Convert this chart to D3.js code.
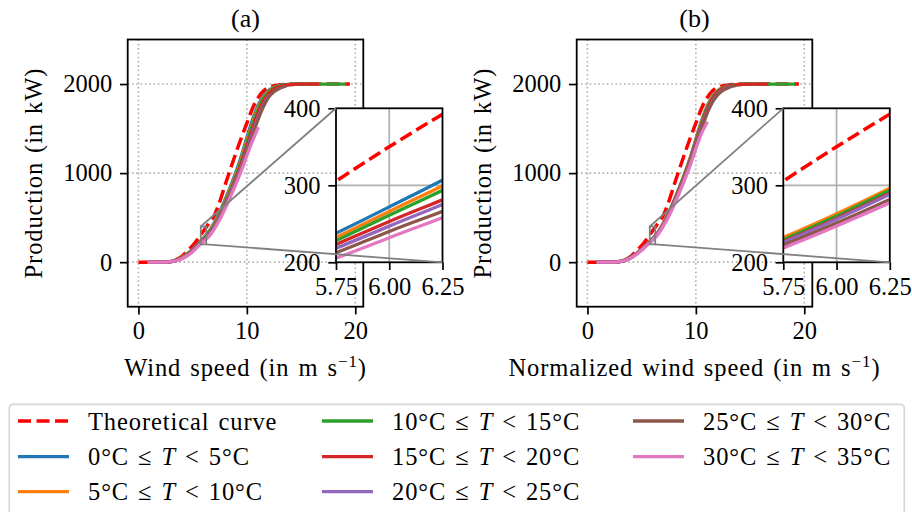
<!DOCTYPE html>
<html>
<head>
<meta charset="utf-8">
<script src="https://cdn.jsdelivr.net/npm/d3@7"></script>
<style>
  body { margin: 0; background: #fff; }
  svg { display: block; }
  text { font-family: "Liberation Serif", "DejaVu Serif", serif; fill: #000; }
  .label { letter-spacing: 0.9px; word-spacing: 2px; }
</style>
</head>
<body>
<div id="chart"></div>
<script>
// Wind speed bins (m/s) for the theoretical curve and for the measured curves
const windSpeed = [0, 0.5, 1, 1.5, 2, 2.5, 3, 3.5, 4, 4.5, 5, 5.5, 6, 6.5, 7, 7.5, 8, 8.5, 9, 9.5,
    10, 10.5, 11, 11.5, 12, 12.5, 13, 13.5, 14, 14.5, 15, 15.5, 16, 16.5, 17, 17.5, 18, 18.5, 19, 19.5];
const measuredSpeed = [1, 1.5, 2, 2.5, 3, 3.5, 4, 4.5, 5, 5.5, 6, 6.5, 7, 7.5, 8, 8.5, 9, 9.5,
    10, 10.5, 11, 11.5, 12, 12.5, 13, 13.5, 14, 14.5, 15, 15.5, 16, 16.5, 17, 17.5, 18, 18.5, 19];

// Theoretical power curve (kW)
const theoretical = [0, 0, 0, 0, 0, 0, 10, 30, 65, 125, 185, 262, 350, 435, 525, 680, 870, 1050, 1230, 1400,
    1560, 1720, 1840, 1920, 1960, 1980, 1990, 1995, 2000, 2000, 2000, 2000, 2000, 2000, 2000, 2000, 2000, 2000, 2000, 2000];

// Temperature bins
const tempLow = [0, 5, 10, 15, 20, 25, 30];
const tempHigh = [5, 10, 15, 20, 25, 30, 35];

// (a) measured curves by temperature bin, starting at 1 m/s
const a0_5 = [0, 0, 0, 2, 8, 25, 55, 95, 145, 205, 272, 345, 445, 565, 705, 855, 1015, 1195, 1400, 1590,
    1750, 1860, 1930, 1965, 1983, 1992, 1996, 1998, 1999, 2000];
const a5_10 = [0, 0, 0, 2, 7, 23, 52, 91, 140, 200, 266, 336, 432, 548, 686, 833, 990, 1165, 1365, 1555,
    1725, 1845, 1920, 1960, 1980, 1990, 1995, 1998, 2000];
const a10_15 = [0, 0, 0, 2, 7, 22, 50, 88, 136, 196, 261, 329, 422, 535, 670, 815, 970, 1140, 1335, 1530,
    1700, 1830, 1910, 1955, 1978, 1990, 1995, 1998, 1999, 2000, 2000, 2000, 2000, 2000, 2000, 2000, 2000];
const a15_20 = [0, 0, 0, 1, 6, 20, 46, 83, 130, 193, 253, 313, 405, 515, 648, 790, 945, 1110, 1300, 1490,
    1665, 1800, 1890, 1945, 1972, 1986, 1993, 1997, 1999, 2000, 2000, 2000];
const a20_25 = [0, 0, 0, 1, 6, 19, 44, 80, 127, 189, 247, 307, 397, 505, 636, 776, 920, 1075, 1255, 1440,
    1615, 1760, 1860];
const a25_30 = [0, 0, 0, 1, 5, 17, 41, 76, 122, 184, 240, 296, 385, 490, 618, 756, 900, 1055, 1230, 1410,
    1590, 1740, 1850, 1915, 1950, 1972];
const a30_35 = [0, 0, 0, 1, 5, 16, 38, 72, 117, 178, 232, 288, 375, 478, 603, 738, 880, 1030, 1195, 1355,
    1500];

// (b) measured curves against normalized wind speed
const b0_5 = [0, 0, 0, 2, 8, 24, 54, 94, 144, 201, 261, 333, 435, 555, 695, 845, 1005, 1180, 1380, 1575,
    1740, 1855, 1925, 1962, 1982, 1991, 1996, 1998, 1999, 2000];
const b5_10 = [0, 0, 0, 2, 8, 24, 54, 95, 145, 203, 263, 335, 437, 556, 694, 842, 1000, 1172, 1370, 1562,
    1730, 1848, 1920, 1960, 1980, 1990, 1995, 1998, 2000];
const b10_15 = [0, 0, 0, 2, 8, 23, 53, 93, 143, 200, 260, 332, 432, 550, 688, 835, 992, 1162, 1358, 1550,
    1720, 1840, 1915, 1958, 1979, 1990, 1995, 1998, 1999, 2000, 2000, 2000, 2000, 2000, 2000, 2000, 2000];
const b15_20 = [0, 0, 0, 2, 7, 23, 52, 92, 141, 198, 257, 327, 425, 542, 678, 824, 980, 1148, 1340, 1532,
    1702, 1825, 1905, 1952, 1975, 1988, 1994, 1997, 1999, 2000, 2000, 2000];
const b20_25 = [0, 0, 0, 2, 7, 22, 51, 91, 140, 197, 256, 325, 421, 536, 670, 814, 968, 1133, 1320, 1508,
    1675, 1800, 1885, 1935, 1965];
const b25_30 = [0, 0, 0, 1, 7, 22, 50, 89, 138, 195, 251, 317, 412, 525, 657, 800, 952, 1115, 1300, 1488,
    1660, 1790, 1878, 1930, 1960, 1978];
const b30_35 = [0, 0, 0, 1, 6, 21, 48, 86, 134, 191, 247, 312, 405, 515, 645, 785, 935, 1095, 1275, 1440,
    1560];

const xTicks = [0, 10, 20];
const yTicks = [0, 1000, 2000];
const insetXTicks = [5.75, 6.00, 6.25];
const insetYTicks = [200, 300, 400];

const colors = ['#1f77b4', '#ff7f0e', '#2ca02c', '#d62728', '#9467bd', '#8c564b', '#e377c2'];

// Layout
const FONT = 24.5;
const TICK = 7.7;
const axTop = 39.5, axBottom = 306.7, axW = 235.6;
const inTop = 108.3, inBottom = 262.3, inW = 106.5;

const svg = d3.select('#chart').append('svg')
    .attr('width', 912)
    .attr('height', 512);
const defs = svg.append('defs');

const panels = [
    { id: 'a', left: 127.7, insetLeft: 336, title: '(a)', xlabel: 'Wind speed', ylabelX: 42,
      series: [a0_5, a5_10, a10_15, a15_20, a20_25, a25_30, a30_35] },
    { id: 'b', left: 576.7, insetLeft: 783.3, title: '(b)', xlabel: 'Normalized wind speed', ylabelX: 491,
      series: [b0_5, b5_10, b10_15, b15_20, b20_25, b25_30, b30_35] }
];

function styleAxis(a) {
    a.attr('font-size', FONT).attr('font-family', null);
    a.select('.domain').remove();
    a.selectAll('line').attr('stroke', '#000').attr('stroke-width', 1.7);
}

function drawCurves(g, x, y, series, clipId) {
    const line = d3.line()
        .x(d => x(d[0]))
        .y(d => y(d[1]))
        .curve(d3.curveMonotoneX);

    const cg = g.append('g').attr('clip-path', `url(#${clipId})`);

    cg.append('path')
        .datum(windSpeed.map((v, i) => [v, theoretical[i]]))
        .attr('fill', 'none')
        .attr('stroke', '#ff0000')
        .attr('stroke-width', 3.5)
        .attr('stroke-dasharray', '13,5.5')
        .attr('d', line);

    series.forEach((s, k) => {
        cg.append('path')
            .datum(s.map((p, i) => [measuredSpeed[i], p]))
            .attr('fill', 'none')
            .attr('stroke', colors[k])
            .attr('stroke-width', 3.3)
            .attr('stroke-linecap', 'square')
            .attr('d', line);
    });
}

function drawPanel(p) {
    const x = d3.scaleLinear().domain([-0.99, 20.74]).range([p.left, p.left + axW]);
    const y = d3.scaleLinear().domain([-500, 2500]).range([axBottom, axTop]);
    const g = svg.append('g');

    defs.append('clipPath').attr('id', `clip-${p.id}`)
        .append('rect')
        .attr('x', p.left).attr('y', axTop)
        .attr('width', axW).attr('height', axBottom - axTop);

    // Dotted grid
    g.append('g').selectAll('line').data(xTicks).join('line')
        .attr('x1', d => x(d)).attr('x2', d => x(d))
        .attr('y1', axTop).attr('y2', axBottom)
        .attr('stroke', '#b0b0b0').attr('stroke-width', 1.6).attr('stroke-dasharray', '1.6,2.7');
    g.append('g').selectAll('line').data(yTicks).join('line')
        .attr('x1', p.left).attr('x2', p.left + axW)
        .attr('y1', d => y(d)).attr('y2', d => y(d))
        .attr('stroke', '#b0b0b0').attr('stroke-width', 1.6).attr('stroke-dasharray', '1.6,2.7');

    drawCurves(g, x, y, p.series, `clip-${p.id}`);

    // Spines
    g.append('rect')
        .attr('x', p.left).attr('y', axTop)
        .attr('width', axW).attr('height', axBottom - axTop)
        .attr('fill', 'none').attr('stroke', '#000').attr('stroke-width', 1.8);

    // Axes
    g.append('g')
        .attr('transform', `translate(0,${axBottom})`)
        .call(d3.axisBottom(x).tickValues(xTicks).tickSize(TICK).tickPadding(TICK).tickSizeOuter(0))
        .call(styleAxis);
    g.append('g')
        .attr('transform', `translate(${p.left},0)`)
        .call(d3.axisLeft(y).tickValues(yTicks).tickFormat(d3.format('d'))
            .tickSize(TICK).tickPadding(TICK).tickSizeOuter(0))
        .call(styleAxis);

    // Titles and labels
    const cx = p.left + axW / 2;
    g.append('text')
        .attr('x', cx).attr('y', 26.5)
        .attr('text-anchor', 'middle')
        .attr('font-size', 26)
        .text(p.title);

    const xl = g.append('text')
        .attr('class', 'label')
        .attr('x', cx).attr('y', 376)
        .attr('text-anchor', 'middle')
        .attr('font-size', FONT);
    xl.append('tspan').text(`${p.xlabel} (in m s`);
    xl.append('tspan').attr('font-size', 17).attr('dy', -9).text('\u22121');
    xl.append('tspan').attr('dy', 9).text(')');

    g.append('text')
        .attr('class', 'label')
        .attr('transform', `translate(${p.ylabelX},${(axTop + axBottom) / 2}) rotate(-90)`)
        .attr('text-anchor', 'middle')
        .attr('font-size', FONT)
        .text('Production (in kW)');

    // Zoom indicator rectangle in the main axes
    g.append('rect')
        .attr('x', x(insetXTicks[0])).attr('y', y(insetYTicks[2]))
        .attr('width', x(insetXTicks[2]) - x(insetXTicks[0]))
        .attr('height', y(insetYTicks[0]) - y(insetYTicks[2]))
        .attr('fill', 'none').attr('stroke', '#808080').attr('stroke-width', 1.8);

    // Inset
    const ix = d3.scaleLinear().domain([5.75, 6.25]).range([p.insetLeft, p.insetLeft + inW]);
    const iy = d3.scaleLinear().domain([200, 400]).range([inBottom, inTop]);
    const ig = svg.append('g');

    defs.append('clipPath').attr('id', `clip-in-${p.id}`)
        .append('rect')
        .attr('x', p.insetLeft).attr('y', inTop)
        .attr('width', inW).attr('height', inBottom - inTop);

    ig.append('rect')
        .attr('x', p.insetLeft).attr('y', inTop)
        .attr('width', inW).attr('height', inBottom - inTop)
        .attr('fill', '#fff');

    ig.append('line')
        .attr('x1', ix(6)).attr('x2', ix(6)).attr('y1', inTop).attr('y2', inBottom)
        .attr('stroke', '#b0b0b0').attr('stroke-width', 1.7);
    ig.append('line')
        .attr('x1', p.insetLeft).attr('x2', p.insetLeft + inW).attr('y1', iy(300)).attr('y2', iy(300))
        .attr('stroke', '#b0b0b0').attr('stroke-width', 1.7);

    drawCurves(ig, ix, iy, p.series, `clip-in-${p.id}`);

    ig.append('rect')
        .attr('x', p.insetLeft).attr('y', inTop)
        .attr('width', inW).attr('height', inBottom - inTop)
        .attr('fill', 'none').attr('stroke', '#000').attr('stroke-width', 1.8);

    ig.append('g')
        .attr('transform', `translate(0,${inBottom})`)
        .call(d3.axisBottom(ix).tickValues(insetXTicks).tickFormat(d3.format('.2f'))
            .tickSize(TICK).tickPadding(TICK).tickSizeOuter(0))
        .call(styleAxis);
    ig.append('g')
        .attr('transform', `translate(${p.insetLeft},0)`)
        .call(d3.axisLeft(iy).tickValues(insetYTicks).tickSize(TICK).tickPadding(TICK).tickSizeOuter(0))
        .call(styleAxis);

    // Connector lines from the indicator to the inset corners
    ig.append('line')
        .attr('x1', x(5.75)).attr('y1', y(400))
        .attr('x2', p.insetLeft).attr('y2', inTop)
        .attr('stroke', '#808080').attr('stroke-width', 1.8);
    ig.append('line')
        .attr('x1', x(6.25)).attr('y1', y(200))
        .attr('x2', p.insetLeft + inW).attr('y2', inBottom)
        .attr('stroke', '#808080').attr('stroke-width', 1.8);
}

panels.forEach(drawPanel);

// Legend
const legend = svg.append('g');
legend.append('rect')
    .attr('x', 9.3).attr('y', 404.3)
    .attr('width', 895).attr('height', 130)
    .attr('rx', 4)
    .attr('fill', '#fff').attr('stroke', '#d6d6d6').attr('stroke-width', 1.7);

const legendCols = [18, 322, 633];
const legendRows = [421, 456.7, 491.7];
const entries = [{ label: 'Theoretical curve', color: '#ff0000', dashed: true }]
    .concat(tempLow.map((lo, k) => ({ lo, hi: tempHigh[k], color: colors[k] })));

entries.forEach((e, i) => {
    const col = Math.floor(i / 3), row = i % 3;
    const lx = legendCols[col], ly = legendRows[row];
    legend.append('line')
        .attr('x1', lx).attr('x2', lx + 51)
        .attr('y1', ly).attr('y2', ly)
        .attr('stroke', e.color)
        .attr('stroke-width', e.dashed ? 3.5 : 3.3)
        .attr('stroke-dasharray', e.dashed ? '13,5.5' : null);
    const t = legend.append('text')
        .attr('class', 'label')
        .attr('x', lx + 70).attr('y', ly + 8.5)
        .attr('font-size', FONT);
    if (e.label) {
        t.text(e.label);
    } else {
        t.append('tspan').text(`${e.lo}°C ≤ `);
        t.append('tspan').attr('font-style', 'italic').text('T');
        t.append('tspan').text(` < ${e.hi}°C`);
    }
});
</script>
</body>
</html>
